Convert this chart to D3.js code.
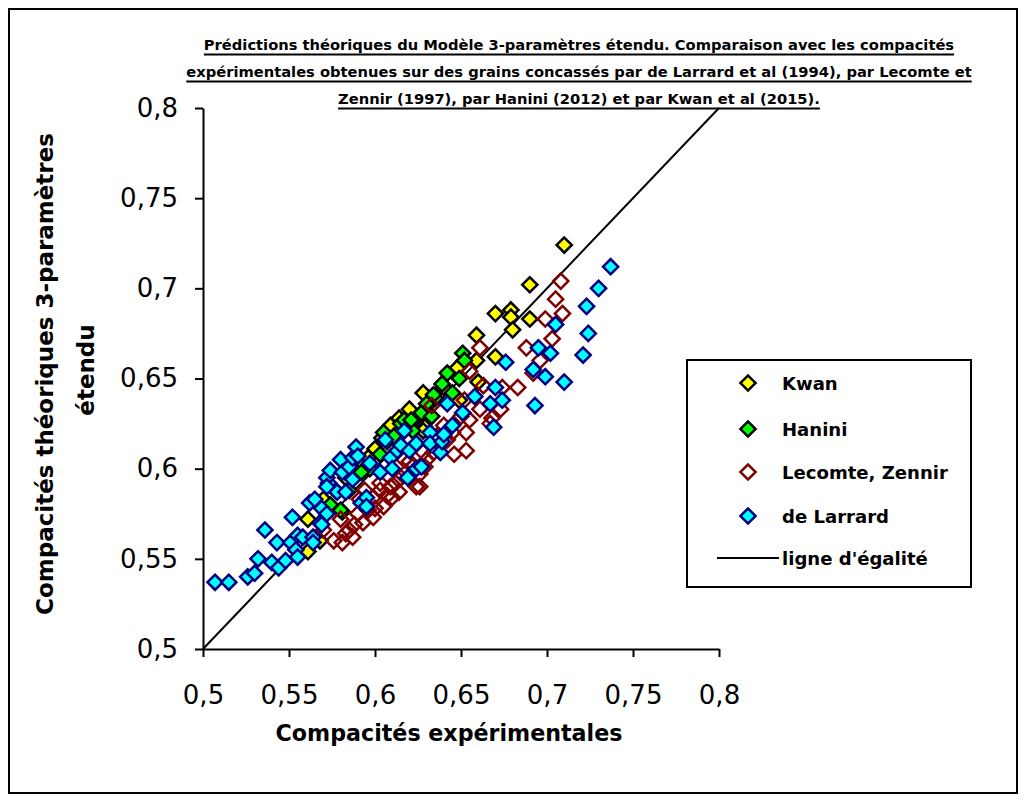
<!DOCTYPE html>
<html><head><meta charset="utf-8">
<script src="https://cdn.jsdelivr.net/npm/d3@7"></script>
<style>body{margin:0;background:#fff} svg{display:block}</style>
</head><body><svg id="c" width="1026" height="803"></svg>
<script>
// ---- data (x = compacité expérimentale, y = compacité théorique) ----
const kwan = [[0.710,0.724],[0.690,0.702],[0.670,0.686],[0.679,0.688],[0.679,0.684],[0.690,0.683],[0.680,0.677],[0.659,0.674],[0.670,0.662],[0.659,0.660],[0.648,0.656],[0.660,0.648],[0.649,0.638],[0.628,0.642],[0.629,0.623],[0.620,0.633],[0.609,0.624],[0.628,0.621],[0.600,0.611],[0.591,0.605],[0.587,0.599],[0.583,0.595],[0.577,0.588],[0.570,0.583],[0.581,0.576],[0.568,0.560],[0.561,0.554],[0.561,0.572],[0.614,0.628],[0.604,0.617],[0.596,0.606],[0.640,0.645],[0.575,0.578]];
const hanini = [[0.651,0.664],[0.652,0.660],[0.642,0.653],[0.649,0.650],[0.639,0.647],[0.645,0.642],[0.635,0.639],[0.634,0.641],[0.627,0.631],[0.633,0.629],[0.622,0.621],[0.615,0.625],[0.617,0.627],[0.605,0.620],[0.607,0.615],[0.603,0.608],[0.597,0.600],[0.585,0.588],[0.580,0.577],[0.574,0.580],[0.611,0.618],[0.592,0.598],[0.621,0.627],[0.630,0.636]];
const lecomteZennir = [[0.708,0.704],[0.705,0.694],[0.709,0.686],[0.699,0.683],[0.703,0.672],[0.688,0.667],[0.661,0.667],[0.696,0.660],[0.692,0.653],[0.683,0.645],[0.655,0.654],[0.663,0.646],[0.674,0.645],[0.652,0.638],[0.673,0.633],[0.661,0.633],[0.668,0.628],[0.655,0.627],[0.653,0.620],[0.642,0.616],[0.653,0.610],[0.646,0.608],[0.633,0.635],[0.630,0.605],[0.629,0.601],[0.628,0.609],[0.622,0.601],[0.617,0.605],[0.626,0.590],[0.624,0.590],[0.615,0.595],[0.609,0.590],[0.603,0.592],[0.603,0.588],[0.610,0.584],[0.605,0.579],[0.599,0.584],[0.594,0.588],[0.591,0.583],[0.590,0.575],[0.599,0.573],[0.593,0.570],[0.585,0.566],[0.580,0.572],[0.576,0.560],[0.581,0.559],[0.587,0.562],[0.570,0.566],[0.667,0.625],[0.600,0.578],[0.607,0.585],[0.612,0.592],[0.618,0.598],[0.614,0.587],[0.596,0.577],[0.588,0.569],[0.583,0.564],[0.620,0.604],[0.634,0.609],[0.638,0.613],[0.645,0.620],[0.650,0.629],[0.640,0.624],[0.636,0.618],[0.626,0.597]];
const deLarrard = [[0.507,0.537],[0.515,0.537],[0.526,0.540],[0.530,0.542],[0.532,0.550],[0.536,0.566],[0.540,0.548],[0.543,0.559],[0.544,0.545],[0.548,0.549],[0.551,0.559],[0.552,0.573],[0.554,0.555],[0.555,0.551],[0.555,0.563],[0.558,0.562],[0.564,0.562],[0.564,0.559],[0.562,0.581],[0.565,0.583],[0.568,0.570],[0.569,0.578],[0.572,0.575],[0.569,0.569],[0.573,0.592],[0.572,0.595],[0.572,0.590],[0.574,0.599],[0.578,0.587],[0.580,0.605],[0.581,0.598],[0.583,0.587],[0.585,0.601],[0.587,0.594],[0.587,0.606],[0.589,0.612],[0.590,0.607],[0.592,0.581],[0.595,0.584],[0.595,0.579],[0.597,0.603],[0.603,0.598],[0.606,0.616],[0.609,0.606],[0.610,0.600],[0.613,0.610],[0.615,0.613],[0.617,0.621],[0.619,0.595],[0.620,0.610],[0.624,0.614],[0.624,0.600],[0.627,0.601],[0.632,0.620],[0.632,0.614],[0.638,0.609],[0.639,0.615],[0.640,0.619],[0.642,0.636],[0.645,0.624],[0.651,0.631],[0.658,0.640],[0.667,0.636],[0.669,0.623],[0.670,0.645],[0.674,0.638],[0.676,0.659],[0.692,0.655],[0.693,0.635],[0.695,0.667],[0.699,0.651],[0.702,0.664],[0.705,0.680],[0.710,0.648],[0.721,0.663],[0.724,0.675],[0.723,0.690],[0.730,0.700],[0.737,0.712]];
const egaliteX = [0.5, 0.8];
const egaliteY = [0.5, 0.8];
const axisTicks = [0.5,0.55,0.6,0.65,0.7,0.75,0.8];
const titleLines = [
  "Prédictions théoriques du Modèle 3-paramètres étendu. Comparaison avec les compacités",
  "expérimentales obtenues sur des grains concassés par de Larrard et al (1994), par Lecomte et",
  "Zennir (1997), par Hanini (2012) et par Kwan et al (2015)."
];
const xTitle = "Compacités expérimentales";
const yTitleLines = ["Compacités théoriques 3-paramètres", "étendu"];
const legendLabels = ["Kwan","Hanini","Lecomte, Zennir","de Larrard","ligne d'égalité"];

// ---- drawing ----
const svg = d3.select("#c");
const FONT_B = "'DejaVu Sans', sans-serif";
const FONT_T = "'DejaVu Sans', sans-serif";

svg.append("rect").attr("x",9).attr("y",9).attr("width",1008).attr("height",784)
  .attr("fill","#fff").attr("stroke","#000").attr("stroke-width",2);

const x = d3.scaleLinear().domain([0.5,0.8]).range([203,719]);
const y = d3.scaleLinear().domain([0.5,0.8]).range([649,108]);
const fmt = d => String(d).replace(".", ",");

function fit(sel, w){
  const n = sel.node(); const cur = n.getComputedTextLength();
  const fs = parseFloat(sel.attr("font-size"));
  const nfs = fs * w / cur; sel.attr("font-size", nfs); return nfs;
}

// title
const tBase = [50, 77, 104];
const tg = svg.append("g");
const tTexts = titleLines.map((t,i) => tg.append("text").attr("x",579).attr("y",tBase[i])
  .attr("text-anchor","middle").attr("font-family",FONT_B).attr("font-weight","bold")
  .attr("font-size",13).text(t));
const tfs = fit(tTexts[1], 786);
tTexts.forEach((t,i)=>{ t.attr("font-size", tfs);
  const w = t.node().getComputedTextLength();
  tg.append("line").attr("x1",579-w/2).attr("x2",579+w/2).attr("y1",tBase[i]+4.5).attr("y2",tBase[i]+4.5)
    .attr("stroke","#000").attr("stroke-width",2);
});

// axes
const gx = svg.append("g").attr("transform","translate(0,649)")
  .call(d3.axisBottom(x).tickValues(axisTicks).tickFormat(fmt).tickSize(8).tickSizeOuter(0).tickPadding(29));
const gy = svg.append("g").attr("transform","translate(203,0)")
  .call(d3.axisLeft(y).tickValues(axisTicks).tickFormat(fmt).tickSize(8).tickSizeOuter(0).tickPadding(17));
[gx,gy].forEach(g=>{
  g.select(".domain").attr("stroke","#000").attr("stroke-width",2);
  g.selectAll(".tick line").attr("stroke","#000").attr("stroke-width",2);
  g.selectAll(".tick text").attr("font-family",FONT_T).attr("font-size",26).attr("fill","#000");
});

// axis titles
const xt = svg.append("text").attr("x",449).attr("y",741).attr("text-anchor","middle")
  .attr("font-family",FONT_B).attr("font-weight","bold").attr("font-size",20).text(xTitle);
fit(xt, 347);
const yt1 = svg.append("text").attr("transform","translate(45,374) rotate(-90)")
  .attr("text-anchor","middle").attr("dominant-baseline","central")
  .attr("font-family",FONT_B).attr("font-weight","bold").attr("font-size",20).text(yTitleLines[0]);
const yfs = fit(yt1, 482);
svg.append("text").attr("transform","translate(86,370) rotate(-90)")
  .attr("text-anchor","middle").attr("dominant-baseline","central")
  .attr("font-family",FONT_B).attr("font-weight","bold").attr("font-size",yfs).text(yTitleLines[1]);

// equality line
const lineData = egaliteX.map((v,i)=>[v, egaliteY[i]]);
svg.append("path").attr("d", d3.line().x(d=>x(d[0])).y(d=>y(d[1]))(lineData))
  .attr("fill","none").attr("stroke","#000").attr("stroke-width",2);

// markers
const diamond = d3.symbol(d3.symbolSquare, 115)();
const series = [
  {data:kwan, fill:"#FFFF00", stroke:"#000000"},
  {data:hanini, fill:"#00FF00", stroke:"#000000"},
  {data:lecomteZennir, fill:"none", stroke:"#800000"},
  {data:deLarrard, fill:"#00FFFF", stroke:"#000080"}
];
series.forEach(s=>{
  svg.append("g").selectAll("path").data(s.data).join("path")
    .attr("d", diamond)
    .attr("transform", d=>`translate(${x(d[0])},${y(d[1])}) rotate(45)`)
    .attr("fill", s.fill).attr("stroke", s.stroke).attr("stroke-width",2.5);
});

// legend
const lg = svg.append("g");
lg.append("rect").attr("x",687).attr("y",360).attr("width",284).attr("height",227)
  .attr("fill","#fff").attr("stroke","#000").attr("stroke-width",2);
const ly = [383, 429, 472, 516, 558];
const lt = legendLabels.map((t,i)=> lg.append("text").attr("x",782).attr("y",ly[i])
  .attr("dominant-baseline","central").attr("font-family",FONT_B).attr("font-weight","bold")
  .attr("font-size",15).text(t));
const lfs = fit(lt[2], 166);
lt.forEach(t=>t.attr("font-size", lfs));
series.forEach((s,i)=>{
  lg.append("path").attr("d", diamond).attr("transform",`translate(748,${ly[i]}) rotate(45)`)
    .attr("fill", s.fill === "none" ? "#fff" : s.fill).attr("stroke", s.stroke).attr("stroke-width",2.5);
});
lg.append("line").attr("x1",717).attr("x2",779).attr("y1",ly[4]).attr("y2",ly[4])
  .attr("stroke","#000").attr("stroke-width",2);
</script></body></html>
